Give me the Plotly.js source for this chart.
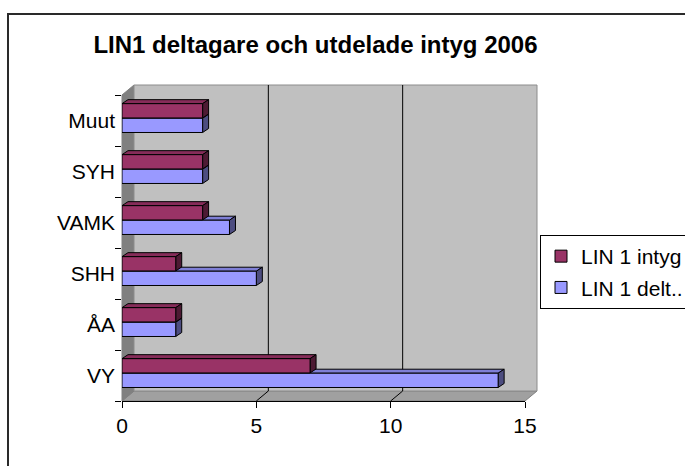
<!DOCTYPE html>
<html>
<head>
<meta charset="utf-8">
<script src="https://cdn.plot.ly/plotly-3.0.1.min.js"></script>
<style>
html,body{margin:0;padding:0;background:#fff;}
#wrap{position:relative;width:685px;height:466px;overflow:hidden;}
#chart{position:absolute;left:0;top:0;width:685px;height:466px;}
#frame{position:absolute;left:7px;top:13px;width:720px;height:520px;border-left:2px solid #2a2a2a;border-top:2px solid #2a2a2a;pointer-events:none;}
</style>
</head>
<body>
<div id="wrap"><div id="chart"></div><div id="frame"></div></div>
<script>
// ---- data ----
const categories = ['VY', 'ÅA', 'SHH', 'VAMK', 'SYH', 'Muut'];
const intygValues = [7, 2, 2, 3, 3, 3];
const deltValues = [14, 2, 5, 4, 3, 3];
const seriesNames = ['LIN 1 intyg', 'LIN 1 delt..'];
const xTicks = [0, 5, 10, 15];
const titleText = 'LIN1 deltagare och utdelade intyg 2006';

// ---- layout constants ----
const W = 685, H = 466;
const M = {l: 122, r: 160, t: 95, b: 65, autoexpand: false};
const plotW = W - M.l - M.r, plotH = H - M.t - M.b;
const xMax = 15;
const PX = plotW / xMax;              // px per x unit
const PY = plotH / categories.length;  // px per category
const FONT = '"Liberation Sans", Arial, sans-serif';

const BAR_W = 0.28;
const OFF_DELT = -0.235, OFF_INTYG = 0.05;
const DX = 6 / PX, DY = 4 / PY;        // bar depth
const WXp = 12 / plotW, WYp = 10 / plotH; // wall depth in paper units
const WX = 12 / PX;

const colors = {
  intyg: {front: '#993366', top: '#862c59', side: '#4d1a33'},
  delt: {front: '#9999ff', top: '#7f7fd6', side: '#4d4d80'}
};

const shapes = [];
// walls (decoration, paper coords)
shapes.push({type: 'path', xref: 'paper', yref: 'paper', layer: 'below',
  path: `M0,0 L1,0 L${1 + WXp},${WYp} L${WXp},${WYp} Z`,
  fillcolor: '#a0a0a0', line: {color: '#808080', width: 1}});
shapes.push({type: 'path', xref: 'paper', yref: 'paper', layer: 'below',
  path: `M0,0 L${WXp},${WYp} L${WXp},${1 + WYp} L0,1 Z`,
  fillcolor: '#808080', line: {color: '#808080', width: 1}});
shapes.push({type: 'rect', xref: 'paper', yref: 'paper', layer: 'below',
  x0: WXp, x1: 1 + WXp, y0: WYp, y1: 1 + WYp,
  fillcolor: '#c0c0c0', line: {color: '#8c8c8c', width: 1}});
// gridlines on back wall and floor
xTicks.forEach(t => {
  if (t === 0 || t === xMax) return;
  shapes.push({type: 'line', xref: 'x', yref: 'paper', layer: 'below',
    x0: t + WX, x1: t + WX, y0: WYp, y1: 1 + WYp, line: {color: '#000', width: 1}});
  shapes.push({type: 'path', xref: 'x', yref: 'paper', layer: 'below',
    path: `M${t},0 L${t + WX},${WYp}`, line: {color: '#000', width: 1}});
});

// 3D faces of bars, derived from values
function faces(values, off, col) {
  values.forEach((v, i) => {
    const yB = i + off, yT = i + off + BAR_W;
    shapes.push({type: 'path', xref: 'x', yref: 'y', layer: 'below',
      path: `M0,${yT} L${v},${yT} L${v + DX},${yT + DY} L${DX},${yT + DY} Z`,
      fillcolor: col.top, line: {color: '#000', width: 1}});
    shapes.push({type: 'path', xref: 'x', yref: 'y', layer: 'below',
      path: `M${v},${yB} L${v},${yT} L${v + DX},${yT + DY} L${v + DX},${yB + DY} Z`,
      fillcolor: col.side, line: {color: '#000', width: 1}});
  });
}
faces(deltValues, OFF_DELT, colors.delt);
faces(intygValues, OFF_INTYG, colors.intyg);

const traces = [
  {type: 'bar', orientation: 'h', name: seriesNames[1], y: categories, x: deltValues,
   width: BAR_W, offset: OFF_DELT, legendgroup: 'delt', legendrank: 2,
   marker: {color: colors.delt.front, line: {color: '#000', width: 1}}, hoverinfo: 'none'},
  {type: 'bar', orientation: 'h', name: seriesNames[0], y: categories, x: intygValues,
   width: BAR_W, offset: OFF_INTYG, legendgroup: 'intyg', legendrank: 1,
   marker: {color: colors.intyg.front, line: {color: '#000', width: 1}}, hoverinfo: 'none'}
];

const layout = {
  width: W, height: H,
  margin: M,
  paper_bgcolor: '#ffffff',
  plot_bgcolor: 'rgba(0,0,0,0)',
  font: {family: FONT, size: 21, color: '#000'},
  barmode: 'overlay',
  showlegend: true,
  title: {text: '<b>' + titleText + '</b>', font: {family: FONT, size: 24, color: '#000'},
    x: 315.5 / W, xanchor: 'center', xref: 'container',
    y: 1 - 45 / H, yanchor: 'middle', yref: 'container', automargin: false},
  xaxis: {range: [0, xMax], tickvals: xTicks, ticktext: xTicks.map(String),
    showgrid: false, zeroline: false, showline: true, linecolor: '#000', linewidth: 1,
    ticks: 'outside', ticklen: 6, tickcolor: '#000', tickfont: {family: FONT, size: 21},
    automargin: false, fixedrange: true},
  yaxis: {type: 'category', categoryorder: 'array', categoryarray: categories,
    range: [-0.5, categories.length - 0.5], tickson: 'boundaries',
    showgrid: false, zeroline: false, showline: false,
    ticks: 'outside', ticklen: 6, tickcolor: '#000', tickfont: {family: FONT, size: 21},
    ticklabelstandoff: 6, automargin: false, fixedrange: true},
  legend: {x: (540 - M.l) / plotW, xanchor: 'left', y: (H - M.b - 235) / plotH, yanchor: 'top',
    bgcolor: '#fff', bordercolor: '#000', borderwidth: 1,
    traceorder: 'grouped', tracegroupgap: 1,
    font: {family: FONT, size: 21, color: '#000'}},
  shapes: shapes
};

Plotly.newPlot('chart', traces, layout, {staticPlot: true, displayModeBar: false});
</script>
</body>
</html>
